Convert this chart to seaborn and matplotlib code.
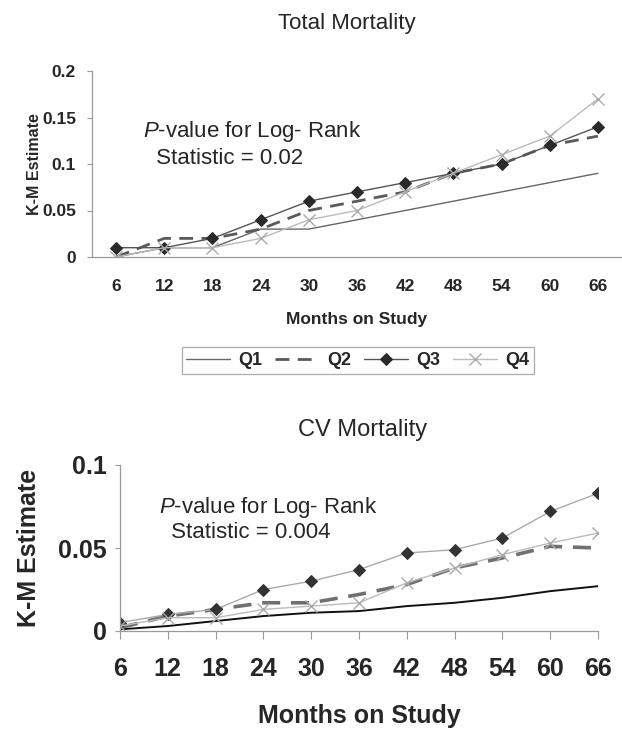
import numpy as np
import pandas as pd
import matplotlib
matplotlib.use("Agg")
import matplotlib.pyplot as plt
import seaborn as sns

# données
months = [6, 12, 18, 24, 30, 36, 42, 48, 54, 60, 66]
quartiles = ["Q1", "Q2", "Q3", "Q4"]

tot_q1 = [0.0, 0.01, 0.01, 0.03, 0.03, 0.04, 0.05, 0.06, 0.07, 0.08, 0.09]
tot_q2 = [0.0, 0.02, 0.02, 0.03, 0.05, 0.06, 0.07, 0.09, 0.10, 0.12, 0.13]
tot_q3 = [0.01, 0.01, 0.02, 0.04, 0.06, 0.07, 0.08, 0.09, 0.10, 0.12, 0.14]
tot_q4 = [0.0, 0.01, 0.01, 0.02, 0.04, 0.05, 0.07, 0.09, 0.11, 0.13, 0.17]

cv_q1 = [0.001, 0.003, 0.006, 0.009, 0.011, 0.012, 0.015, 0.017, 0.020, 0.024, 0.027]
cv_q2 = [0.002, 0.009, 0.013, 0.017, 0.017, 0.022, 0.028, 0.038, 0.044, 0.051, 0.050]
cv_q3 = [0.005, 0.010, 0.013, 0.025, 0.030, 0.037, 0.047, 0.049, 0.056, 0.072, 0.083]
cv_q4 = [0.003, 0.008, 0.008, 0.013, 0.015, 0.017, 0.029, 0.038, 0.046, 0.053, 0.059]

pval_total = "0.02"
pval_cv = "0.004"

sns.set_style("white")
plt.rcParams['font.family'] = ['Liberation Sans', 'DejaVu Sans']
plt.rcParams['mathtext.fontset'] = 'custom'
plt.rcParams['mathtext.it'] = 'Liberation Sans:italic'
plt.rcParams['mathtext.rm'] = 'Liberation Sans'

W, H = 622, 754
fig = plt.figure(figsize=(W / 100, H / 100), dpi=100)

def rect(x0, x1, ytop, ybot):
    return [x0 / W, 1 - ybot / H, (x1 - x0) / W, (ybot - ytop) / H]

axe_gris = '#9a9a9a'

# ---------------- Total Mortality ----------------
ax1 = fig.add_axes(rect(92, 622, 71, 257))
styles_top = [
    dict(color='#666666', lw=1.0),
    dict(color='#5a5a5a', lw=2.0, linestyle=(0, (5, 3))),
    dict(color='#555555', lw=1.0, marker='D', markersize=6, markeredgecolor='#2a2a2a',
         markerfacecolor='#2a2a2a'),
    dict(color='#bbbbbb', lw=1.0, marker='x', markersize=8, markeredgecolor='#aaaaaa',
         markeredgewidth=1.0),
]
for q, vals, st in zip(quartiles, [tot_q1, tot_q2, tot_q3, tot_q4], styles_top):
    sns.lineplot(x=months, y=vals, ax=ax1, label=q, **st)
if ax1.get_legend() is not None:
    ax1.get_legend().remove()

ax1.set_xlim(3, 69)
ax1.set_ylim(0, 0.2)
ax1.set_yticks([0, 0.05, 0.1, 0.15, 0.2])
ax1.set_yticklabels(['0', '0.05', '0.1', '0.15', '0.2'])
ax1.set_xticks(months)
ax1.set_xticklabels([str(m) for m in months])
ax1.set_xticks(np.arange(9, 66, 6), minor=True)
ax1.tick_params(axis='x', which='major', length=0, pad=16, labelsize=12.5)
ax1.tick_params(axis='x', which='minor', length=4.5, width=0.8, color=axe_gris, direction='out')
ax1.tick_params(axis='y', length=3.6, width=0.8, color=axe_gris, direction='out', pad=8,
                labelsize=12.5, left=True)
for lab in ax1.get_xticklabels() + ax1.get_yticklabels():
    lab.set_fontweight('bold')
for s in ['top', 'right']:
    ax1.spines[s].set_visible(False)
for s in ['left', 'bottom']:
    ax1.spines[s].set_color(axe_gris)
    ax1.spines[s].set_linewidth(0.9)

ax1.set_xlabel('Months on Study', fontsize=12.5, fontweight='bold')
ax1.xaxis.set_label_coords(0.5, (257 - 312) / 186)
ax1.set_ylabel('K-M Estimate', fontsize=11.5, fontweight='bold')
ax1.yaxis.set_label_coords((42 - 92) / 530, 0.5)

fig.text(347 / W, 1 - 24 / H, 'Total Mortality', ha='center', va='center', fontsize=16)
fig.text(143 / W, 1 - 132 / H, r'$\mathit{P}$-value for Log- Rank', ha='left', va='center',
         fontsize=16)
fig.text(150 / W, 1 - 158 / H, ' Statistic = ' + pval_total, ha='left', va='center', fontsize=16)

h, l = ax1.get_legend_handles_labels()
leg1 = fig.legend(h, l, loc='center', bbox_to_anchor=(358 / W, 1 - 360.5 / H), ncol=4,
                  frameon=True, fancybox=False, edgecolor='#999999', handlelength=2.4,
                  columnspacing=0.7, handletextpad=0.5, borderpad=0.25,
                  prop={'weight': 'bold', 'size': 13})
leg1.get_frame().set_linewidth(0.9)

# ---------------- CV Mortality ----------------
ax2 = fig.add_axes(rect(120, 598, 465, 631))
styles_bot = [
    dict(color='#111111', lw=1.4),
    dict(color='#707070', lw=2.6, linestyle=(0, (5, 3))),
    dict(color='#aaaaaa', lw=1.0, marker='D', markersize=6.5, markeredgecolor='#333333',
         markerfacecolor='#333333'),
    dict(color='#bbbbbb', lw=1.0, marker='x', markersize=8, markeredgecolor='#aaaaaa',
         markeredgewidth=1.0),
]
for q, vals, st in zip(quartiles, [cv_q1, cv_q2, cv_q3, cv_q4], styles_bot):
    sns.lineplot(x=months, y=vals, ax=ax2, label=q, **st)
if ax2.get_legend() is not None:
    ax2.get_legend().remove()

ax2.set_xlim(6, 66)
ax2.set_ylim(0, 0.1)
ax2.set_yticks([0, 0.05, 0.1])
ax2.set_yticklabels(['0', '0.05', '0.1'])
ax2.set_xticks(months)
ax2.set_xticklabels([str(m) for m in months])
ax2.tick_params(axis='x', length=6, width=0.8, color=axe_gris, direction='out', pad=13,
                labelsize=18, bottom=True)
ax2.tick_params(axis='y', length=3.6, width=0.8, color=axe_gris, direction='out', pad=6,
                labelsize=18, left=True)
for lab in ax2.get_xticklabels() + ax2.get_yticklabels():
    lab.set_fontweight('bold')
for s in ['top', 'right']:
    ax2.spines[s].set_visible(False)
for s in ['left', 'bottom']:
    ax2.spines[s].set_color(axe_gris)
    ax2.spines[s].set_linewidth(0.9)

ax2.set_xlabel('Months on Study', fontsize=18, fontweight='bold')
ax2.xaxis.set_label_coords(0.5, (631 - 704) / 166)
ax2.set_ylabel('K-M Estimate', fontsize=18, fontweight='bold')
ax2.yaxis.set_label_coords((41 - 120) / 478, 0.5)

fig.text(363 / W, 1 - 430 / H, 'CV Mortality', ha='center', va='center', fontsize=17)
fig.text(159 / W, 1 - 508 / H, r'$\mathit{P}$-value for Log- Rank', ha='left', va='center',
         fontsize=16)
fig.text(165 / W, 1 - 533 / H, ' Statistic = ' + pval_cv, ha='left', va='center', fontsize=16)

# la légende du bas est coupée par le bord de l'image (seul le haut du cadre est visible)
h2, l2 = ax2.get_legend_handles_labels()
leg2 = fig.legend(h2, l2, loc='upper center', bbox_to_anchor=(365 / W, 1 - 750 / H), ncol=4,
                  frameon=True, fancybox=False, edgecolor='#999999', handlelength=2.4,
                  columnspacing=1.0, handletextpad=0.5, borderpad=1.3,
                  prop={'weight': 'bold', 'size': 16})
leg2.get_frame().set_linewidth(0.9)

fig.savefig('out.png', dpi=100)
